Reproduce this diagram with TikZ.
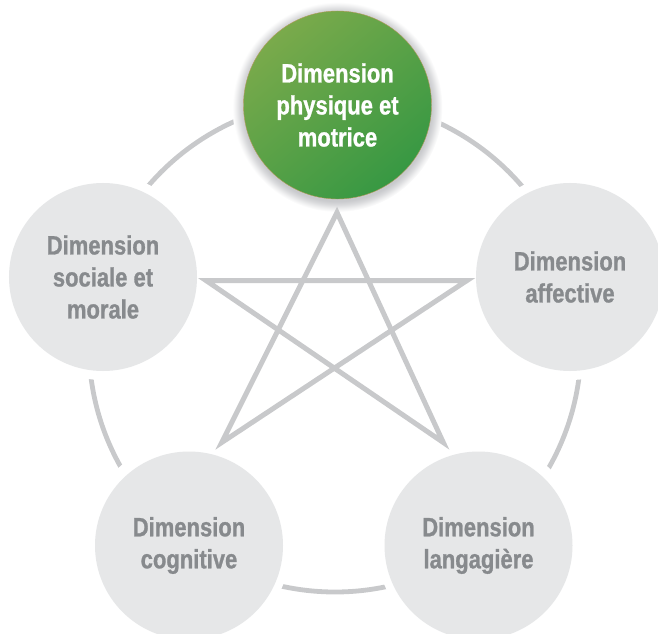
\documentclass[tikz,border=0pt]{standalone}
\usepackage{fontspec}
\setmainfont{Liberation Sans}[FakeStretch=0.83, BoldFeatures={FakeBold=1}]
\usetikzlibrary{calc}
\definecolor{linegray}{HTML}{C8C9CB}
\definecolor{circgray}{HTML}{E6E7E8}
\definecolor{textgray}{HTML}{878A8D}
\definecolor{greenA}{HTML}{7AAA4B}
\definecolor{greenB}{HTML}{379843}
\definecolor{glowgray}{HTML}{C9CACD}
\definecolor{greenedge}{HTML}{B39A5A}
\pgfdeclareradialshading{glowshade}{\pgfpoint{0bp}{0bp}}{color(0bp)=(glowgray); color(22.4bp)=(glowgray); color(23.3bp)=(glowgray!70!white); color(24.2bp)=(glowgray!30!white); color(25bp)=(white); color(50bp)=(white)}
\begin{document}
\begin{tikzpicture}[x=1bp,y=-1bp,
  dimcircle/.style={circle, minimum size=188bp, inner sep=0pt, fill=circgray,
    text=textgray, align=center,
    font=\fontsize{26.5bp}{32bp}\selectfont\bfseries},
  topcircle/.style={circle, minimum size=188bp, inner sep=0pt,
    top color=greenA, bottom color=greenB, shading angle=40,
    draw=greenedge, line width=0.4bp,
    text=white, align=center,
    font=\fontsize{26.5bp}{32bp}\selectfont\bfseries},
  ringline/.style={draw=linegray, line width=4.8bp},
  starline/.style={draw=linegray, line width=5bp, line join=miter}]
\useasboundingbox (0,0) rectangle (658,634);
% centres
\coordinate (cT) at (337.5,105);
\coordinate (cL) at (103,277);
\coordinate (cR) at (570,277);
\coordinate (cBL) at (189,543);
\coordinate (cBR) at (478.5,543);
\coordinate (ringc) at (335,346);
\coordinate (glowc) at (337.5,107);
% outer ring
\draw[ringline] (ringc) circle[radius=246];
% gaps around circles
\foreach \c in {cT,cL,cR,cBL,cBR} {\fill[white] (\c) circle[radius=103];}
% glow of the top circle
\shade[shading=glowshade] (glowc) circle[radius=105];
% star
\coordinate (sT) at (337,212.5);
\coordinate (sL) at (206,280.5);
\coordinate (sR) at (467,280.5);
\coordinate (sBL) at (221.7,442.5);
\coordinate (sBR) at (443.3,442.5);
\draw[starline] (sT) -- (sBL) -- (sR) -- (sL) -- (sBR) -- cycle;
% circles
\node[topcircle] (phys) at (cT) {Dimension\\physique et\\motrice};
\node[dimcircle] (soc) at (cL) {Dimension\\sociale et\\morale};
\node[dimcircle] (aff) at (cR) {Dimension\\affective};
\node[dimcircle, yshift=-2.5bp] (cog) at (cBL) {Dimension\\cognitive};
\node[dimcircle, yshift=-2.5bp] (lang) at (cBR) {Dimension\\langagière};
\end{tikzpicture}
\end{document}
